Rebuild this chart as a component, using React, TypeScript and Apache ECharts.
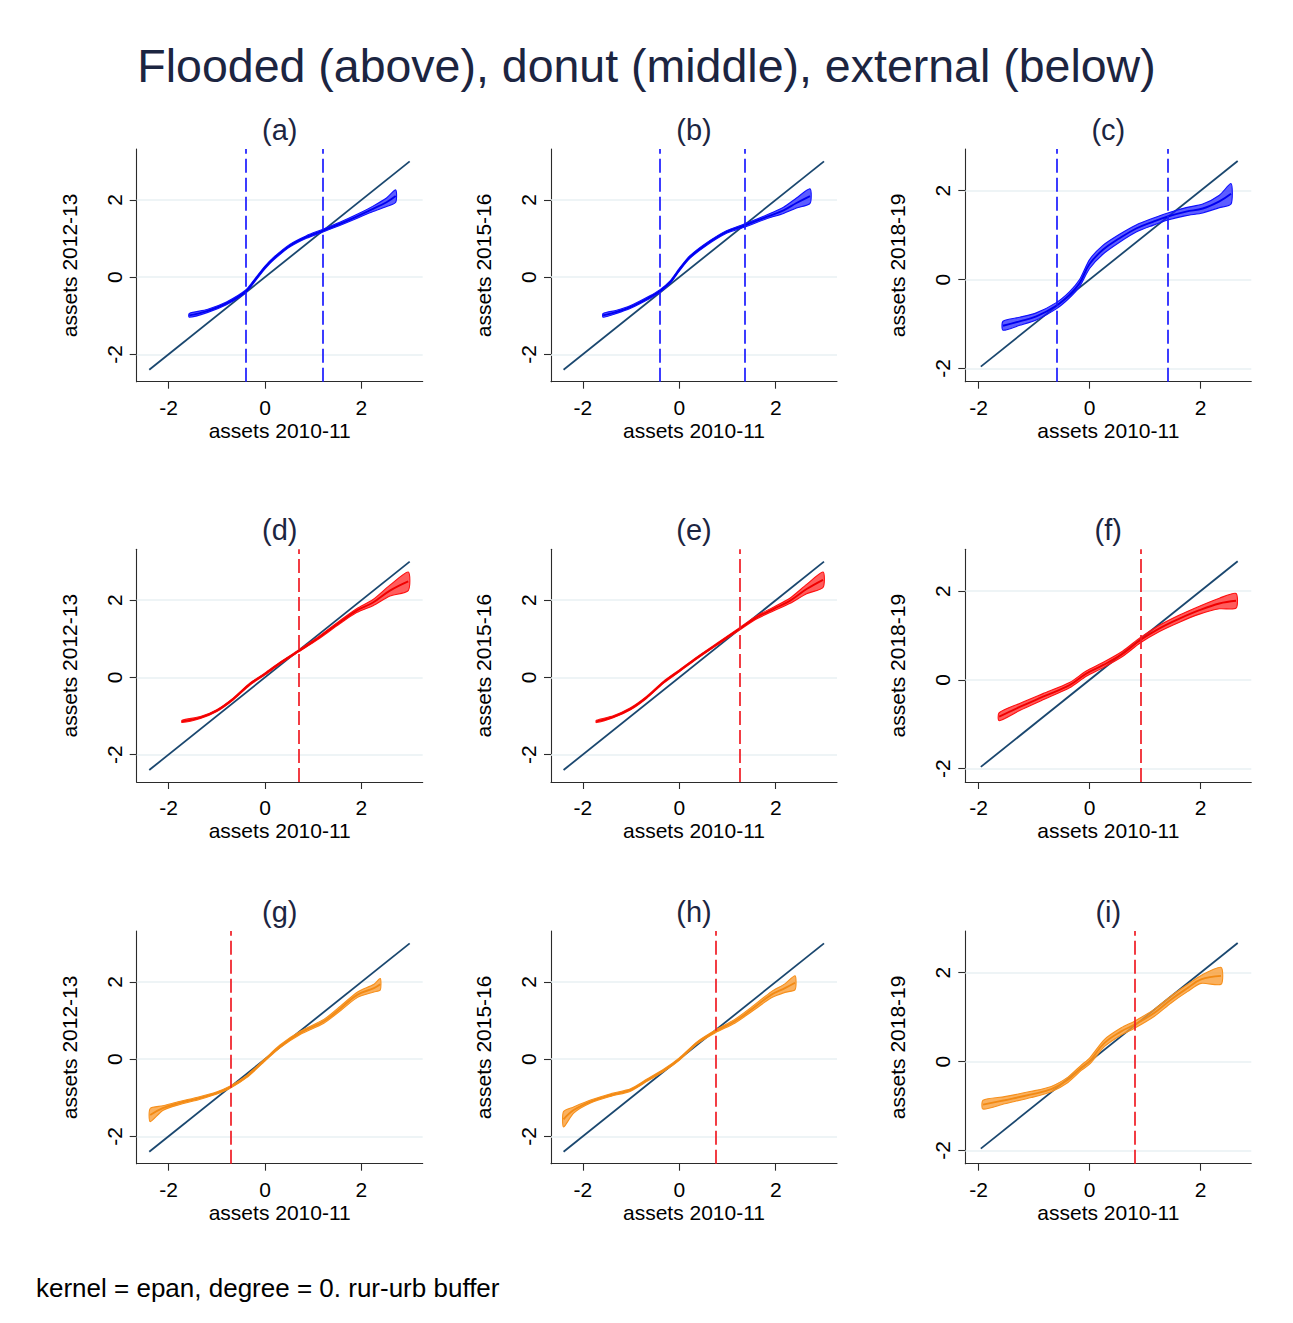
import React, { useEffect, useRef } from "react";
import * as echarts from "echarts";

// ---------- texts ----------
const TITLE = "Flooded (above), donut (middle), external (below)";
const NOTE = "kernel = epan, degree = 0. rur-urb buffer";
const PANEL_LABELS = ["(a)", "(b)", "(c)", "(d)", "(e)", "(f)", "(g)", "(h)", "(i)"];
const X_AXIS_NAME = "assets 2010-11";
const Y_AXIS_NAMES = ["assets 2012-13", "assets 2015-16", "assets 2018-19"];
const TICKS = [-2, 0, 2];

// ---------- data (x, fitted y, CI half-width) ----------
const X_A = [-1.57, -1.2, -0.8, -0.4, -0.21, 0, 0.17, 0.52, 0.86, 1.19, 1.55, 1.9, 2.24, 2.52, 2.71];
const Y_A = [-0.99, -0.88, -0.68, -0.37, -0.08, 0.25, 0.47, 0.82, 1.04, 1.2, 1.38, 1.57, 1.77, 1.94, 2.1];
const H_A = [0.05, 0.04, 0.035, 0.035, 0.035, 0.035, 0.035, 0.035, 0.035, 0.035, 0.04, 0.05, 0.07, 0.11, 0.16];

const X_B = [-1.58, -1.3, -1.02, -0.61, -0.4, -0.19, 0, 0.22, 0.57, 0.98, 1.36, 1.81, 2.16, 2.43, 2.71];
const Y_B = [-0.99, -0.9, -0.78, -0.52, -0.36, -0.13, 0.19, 0.52, 0.86, 1.17, 1.34, 1.56, 1.73, 1.92, 2.1];
const H_B = [0.05, 0.04, 0.035, 0.035, 0.035, 0.035, 0.035, 0.035, 0.035, 0.035, 0.04, 0.05, 0.08, 0.13, 0.19];

const X_C = [-1.56, -1.26, -0.96, -0.6, -0.36, -0.18, 0, 0.24, 0.54, 0.84, 1.14, 1.41, 1.74, 2.04, 2.34, 2.55];
const Y_C = [-1.04, -0.94, -0.83, -0.59, -0.34, -0.08, 0.35, 0.67, 0.93, 1.15, 1.3, 1.42, 1.53, 1.6, 1.76, 1.93];
const H_C = [0.1, 0.09, 0.08, 0.07, 0.07, 0.08, 0.1, 0.1, 0.09, 0.08, 0.08, 0.08, 0.09, 0.1, 0.14, 0.23];

const X_D = [-1.72, -1.34, -1.0, -0.66, -0.31, 0, 0.31, 0.69, 1.07, 1.55, 1.9, 2.24, 2.59, 2.97];
const Y_D = [-1.14, -1.04, -0.86, -0.56, -0.17, 0.09, 0.37, 0.68, 0.99, 1.43, 1.73, 1.94, 2.25, 2.49];
const H_D = [0.03, 0.025, 0.025, 0.025, 0.025, 0.025, 0.025, 0.025, 0.03, 0.04, 0.05, 0.08, 0.14, 0.24];

const X_E = [-1.72, -1.37, -1.02, -0.68, -0.33, 0, 0.36, 0.78, 1.25, 1.61, 1.95, 2.3, 2.64, 2.98];
const Y_E = [-1.14, -1.02, -0.82, -0.52, -0.13, 0.17, 0.5, 0.86, 1.26, 1.56, 1.77, 1.99, 2.29, 2.53];
const H_E = [0.03, 0.025, 0.025, 0.025, 0.025, 0.025, 0.025, 0.025, 0.03, 0.04, 0.05, 0.07, 0.12, 0.2];

const X_F = [-1.63, -1.26, -0.84, -0.36, -0.06, 0.24, 0.6, 0.91, 1.26, 1.62, 1.98, 2.34, 2.64];
const Y_F = [-0.83, -0.61, -0.38, -0.12, 0.14, 0.33, 0.59, 0.89, 1.16, 1.38, 1.57, 1.72, 1.78];
const H_F = [0.09, 0.08, 0.07, 0.06, 0.06, 0.06, 0.06, 0.06, 0.07, 0.08, 0.09, 0.12, 0.165];

const X_G = [-2.38, -2.12, -1.78, -1.36, -1.01, -0.73, -0.38, 0, 0.31, 0.73, 1.22, 1.57, 1.92, 2.26, 2.39];
const Y_G = [-1.45, -1.27, -1.14, -1.01, -0.88, -0.73, -0.45, -0.02, 0.33, 0.68, 0.98, 1.32, 1.67, 1.84, 1.94];
const H_G = [0.17, 0.06, 0.04, 0.035, 0.03, 0.03, 0.03, 0.03, 0.035, 0.04, 0.05, 0.06, 0.07, 0.1, 0.15];

const X_H = [-2.4, -2.19, -1.84, -1.42, -1.01, -0.66, -0.31, 0, 0.38, 0.75, 1.15, 1.49, 1.91, 2.19, 2.4];
const Y_H = [-1.56, -1.32, -1.1, -0.93, -0.8, -0.54, -0.28, 0, 0.43, 0.72, 0.98, 1.28, 1.67, 1.84, 1.98];
const H_H = [0.2, 0.08, 0.04, 0.035, 0.03, 0.03, 0.03, 0.03, 0.03, 0.035, 0.05, 0.06, 0.08, 0.11, 0.18];

const X_I = [-1.92, -1.53, -1.05, -0.69, -0.39, -0.15, 0, 0.27, 0.57, 0.81, 1.17, 1.47, 1.77, 2.01, 2.37];
const Y_I = [-0.97, -0.87, -0.74, -0.62, -0.41, -0.14, 0.01, 0.42, 0.68, 0.83, 1.1, 1.4, 1.66, 1.85, 1.93];
const H_I = [0.1, 0.08, 0.07, 0.06, 0.06, 0.06, 0.07, 0.08, 0.08, 0.08, 0.08, 0.08, 0.08, 0.09, 0.19];

// 45-degree reference line extent, per column
const DIAG_COL1 = [-2.4, 3.0];
const DIAG_COL2 = [-2.4, 3.0];
const DIAG_COL3 = [-1.96, 2.67];

// vertical dashed cutoffs per panel
const CUT_A = [-0.4, 1.2];
const CUT_B = [-0.4, 1.35];
const CUT_C = [-0.6, 1.41];
const CUT_D = [0.69];
const CUT_E = [1.26];
const CUT_F = [0.915];
const CUT_G = [-0.725];
const CUT_H = [0.75];
const CUT_I = [0.81];

// axis ranges per column
const XRANGE_COL12 = [-2.66, 3.27];
const XRANGE_COL3 = [-2.24, 2.915];
const YRANGE_COL12 = [-2.71, 3.32];
const YRANGE_COL3 = [-2.3, 2.94];

const PANELS = [
  { x: X_A, y: Y_A, h: H_A, cut: CUT_A },
  { x: X_B, y: Y_B, h: H_B, cut: CUT_B },
  { x: X_C, y: Y_C, h: H_C, cut: CUT_C },
  { x: X_D, y: Y_D, h: H_D, cut: CUT_D },
  { x: X_E, y: Y_E, h: H_E, cut: CUT_E },
  { x: X_F, y: Y_F, h: H_F, cut: CUT_F },
  { x: X_G, y: Y_G, h: H_G, cut: CUT_G },
  { x: X_H, y: Y_H, h: H_H, cut: CUT_H },
  { x: X_I, y: Y_I, h: H_I, cut: CUT_I },
];
const DIAGS = [DIAG_COL1, DIAG_COL2, DIAG_COL3];

// ---------- styling / layout ----------
const FONT = "'Liberation Sans', Arial, sans-serif";
const COL_LEFT = [136.7, 551, 965.3];
const ROW_TOP = [149, 549.3, 931];
const GRID_W = 286;
const GRID_H = 232.7;
const SUB_Y = [130, 530, 912];

const ROW_STYLE = [
  { edge: "#1010ff", fill: "rgba(30,30,255,0.72)", line: "#0000f0", dash: "#1a1aff" },
  { edge: "#ff1010", fill: "rgba(255,30,30,0.72)", line: "#f00000", dash: "#f01c24" },
  { edge: "#f7901c", fill: "rgba(248,155,50,0.78)", line: "#f28a14", dash: "#f01c24" },
];

function buildOption() {
  const grid: any[] = [];
  const xAxis: any[] = [];
  const yAxis: any[] = [];
  const series: any[] = [];
  const graphic: any[] = [];

  graphic.push({
    type: "text",
    left: "center",
    top: 42,
    style: { text: TITLE, font: `46.5px ${FONT}`, fill: "#1c2541" },
  });
  graphic.push({
    type: "text",
    x: 36,
    y: 1288,
    style: { text: NOTE, font: `26px ${FONT}`, fill: "#000", textVerticalAlign: "middle" },
  });

  PANELS.forEach((p, i) => {
    const row = Math.floor(i / 3);
    const col = i % 3;
    const rs = ROW_STYLE[row];
    const xr = col === 2 ? XRANGE_COL3 : XRANGE_COL12;
    const yr = col === 2 ? YRANGE_COL3 : YRANGE_COL12;
    const left = COL_LEFT[col];
    const top = ROW_TOP[row];
    grid.push({ left, top, width: GRID_W, height: GRID_H, containLabel: false });

    graphic.push({
      type: "text",
      x: left + GRID_W / 2,
      y: SUB_Y[row],
      style: {
        text: PANEL_LABELS[i],
        font: `29px ${FONT}`,
        fill: "#1c2541",
        textAlign: "center",
        textVerticalAlign: "middle",
      },
    });

    const axisCommon = {
      gridIndex: i,
      type: "value",
      axisLine: { show: true, onZero: false, lineStyle: { color: "#2b2b2b", width: 1.1 } },
      axisTick: { show: true, customValues: TICKS, length: 7, lineStyle: { color: "#2b2b2b", width: 1.1 } },
      splitLine: { show: false },
      nameLocation: "middle",
      nameTextStyle: { fontSize: 21, color: "#000", fontFamily: FONT },
    };
    xAxis.push({
      ...axisCommon,
      min: xr[0],
      max: xr[1],
      name: X_AXIS_NAME,
      nameGap: 38,
      axisLabel: { customValues: TICKS, fontSize: 21, color: "#000", fontFamily: FONT, margin: 15 },
    });
    yAxis.push({
      ...axisCommon,
      min: yr[0],
      max: yr[1],
      name: Y_AXIS_NAMES[col],
      nameGap: 57,
      axisLabel: { customValues: TICKS, fontSize: 21, color: "#000", fontFamily: FONT, margin: 12, rotate: 90 },
    });

    const d = DIAGS[col];
    series.push({
      type: "line",
      xAxisIndex: i,
      yAxisIndex: i,
      data: [[d[0], d[0]], [d[1], d[1]]],
      symbol: "none",
      silent: true,
      z: 2,
      lineStyle: { color: "#1a476f", width: 1.8 },
      markLine: {
        silent: true,
        symbol: ["none", "none"],
        z: 1,
        label: { show: false },
        lineStyle: { color: "#e9f1f3", width: 1.6, type: "solid" },
        data: TICKS.map((t) => ({ yAxis: t })),
      },
    });

    // confidence band as a polygon placed through the axis scales
    series.push({
      type: "custom",
      xAxisIndex: i,
      yAxisIndex: i,
      data: [[p.x[0], p.y[0]]],
      silent: true,
      z: 3,
      renderItem: (_params: any, api: any) => {
        const upper = p.x.map((xv, k) => api.coord([xv, p.y[k] + p.h[k]]));
        const lower = p.x.map((xv, k) => api.coord([xv, p.y[k] - p.h[k]])).reverse();
        return {
          type: "polygon",
          shape: { points: upper.concat(lower), smooth: 0.25 },
          style: { fill: rs.fill, stroke: rs.edge, lineWidth: 1.1 },
        };
      },
    });

    series.push({
      type: "line",
      xAxisIndex: i,
      yAxisIndex: i,
      data: p.x.map((xv, k) => [xv, p.y[k]]),
      symbol: "none",
      smooth: 0.4,
      silent: true,
      z: 4,
      lineStyle: { color: rs.line, width: 1.9 },
      markLine: {
        silent: true,
        symbol: ["none", "none"],
        z: 6,
        label: { show: false },
        lineStyle: { color: rs.dash, width: 1.7, type: [14, 5] },
        data: p.cut.map((c) => ({ xAxis: c })),
      },
    });
  });

  return {
    animation: false,
    backgroundColor: "#ffffff",
    grid,
    xAxis,
    yAxis,
    series,
    graphic,
  };
}

export default function App() {
  const ref = useRef<HTMLDivElement | null>(null);
  useEffect(() => {
    if (!ref.current) return;
    const chart = echarts.init(ref.current, null, { renderer: "svg" });
    chart.setOption(buildOption() as any);
    return () => chart.dispose();
  }, []);
  return (
    <div
      ref={ref}
      style={{ position: "absolute", left: 0, top: 0, width: 1293, height: 1323, background: "#fff" }}
    />
  );
}
